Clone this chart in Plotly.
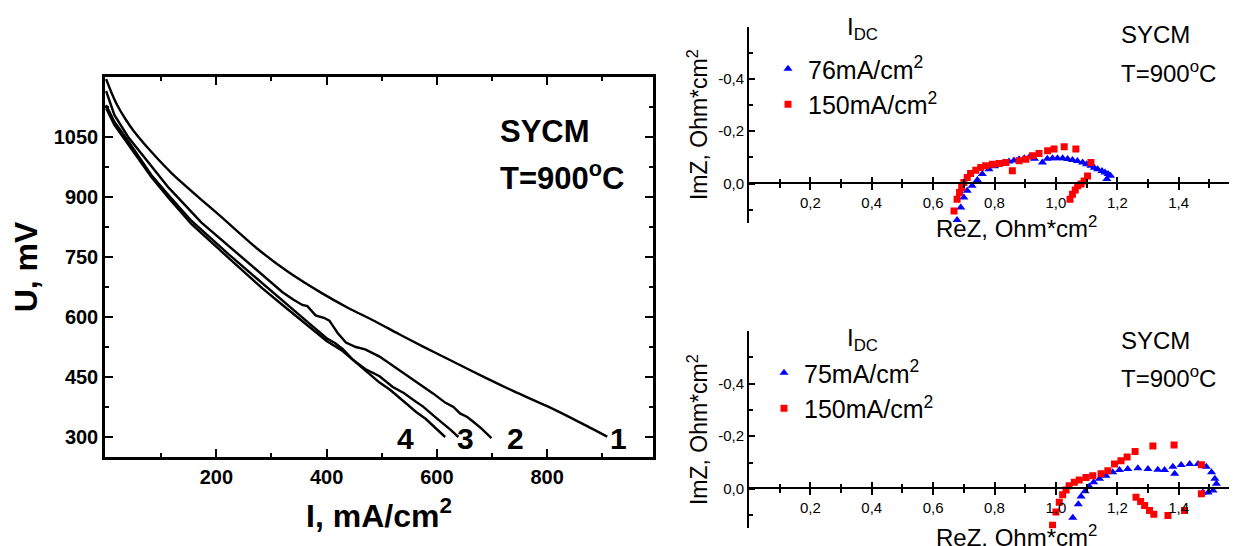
import plotly.graph_objects as go

W, H = 1237, 546
OFF = 8  # browser body margin: the figure is drawn 8 px in from the top-left corner
FW, FH = W - OFF, H - OFF
FONT = "Arial, Liberation Sans, sans-serif"

# ---------------- Left panel: U(I) curves ----------------
I1 = [0, 10, 20, 35, 50, 82, 120, 173, 210, 275, 330, 392, 440, 484, 530, 575, 630, 684, 740, 800, 860, 909]
U1 = [1195, 1160, 1130, 1095, 1065, 1013, 958, 893, 849, 770, 713, 659, 622, 592, 558, 526, 488, 451, 414, 377, 336, 301]

I2 = [0, 15, 40, 82, 113, 173, 246, 283, 320, 340, 356, 365, 380, 395, 405, 420, 435, 453, 470, 496, 515, 530, 557, 575, 593, 615, 630, 642, 655, 666, 680, 699]
U2 = [1165, 1105, 1050, 978, 924, 836, 750, 705, 662, 643, 630, 627, 604, 598, 591, 560, 536, 525, 519, 501, 483, 468, 442, 427, 409, 386, 375, 359, 350, 338, 322, 297]

I3 = [0, 15, 40, 82, 113, 155, 222, 283, 320, 344, 370, 400, 415, 429, 447, 470, 496, 520, 540, 560, 575, 595, 610, 625, 639]
U3 = [1130, 1088, 1040, 955, 905, 840, 757, 684, 640, 612, 582, 547, 535, 520, 494, 470, 452, 425, 410, 390, 376, 352, 336, 318, 300]

I4 = [0, 15, 40, 82, 113, 155, 222, 283, 320, 344, 370, 400, 429, 460, 480, 496, 515, 530, 550, 563, 580, 590, 603, 615]
U4 = [1122, 1080, 1032, 950, 898, 832, 748, 672, 630, 603, 572, 540, 515, 478, 455, 436, 418, 400, 378, 362, 345, 332, 316, 300]

curve_labels = ["1", "2", "3", "4"]
label_I = [930, 742, 652, 543]
label_U = [297, 297, 297, 297]

left_xticks = [200, 400, 600, 800]
left_xminor = [100, 300, 500, 700, 900]
left_yticks = [300, 450, 600, 750, 900, 1050]
left_yminor = [375, 525, 675, 825, 975, 1125]

# ---------------- Right panels: impedance spectra ----------------
# top: 76 mA/cm2 (blue) and 150 mA/cm2 (red)
ReZ_t76 = [0.678, 0.690, 0.700, 0.711, 0.727, 0.744, 0.760, 0.782, 0.800, 0.815, 0.830, 0.847, 0.863, 0.880,
           0.897, 0.913, 0.930, 0.956, 0.972, 0.989, 1.005, 1.022, 1.038, 1.054, 1.070, 1.087, 1.100, 1.114,
           1.125, 1.136, 1.150, 1.160, 1.170, 1.178, 1.166]
ImZ_t76 = [0.140, 0.092, 0.054, 0.028, 0.009, -0.013, -0.036, -0.055, -0.066, -0.074, -0.080, -0.084, -0.088,
           -0.093, -0.097, -0.100, -0.095, -0.080, -0.095, -0.097, -0.097, -0.097, -0.094, -0.090, -0.086,
           -0.080, -0.074, -0.068, -0.060, -0.055, -0.048, -0.042, -0.036, -0.030, -0.017]
ReZ_t150 = [0.668, 0.678, 0.686, 0.693, 0.700, 0.711, 0.722, 0.739, 0.755, 0.771, 0.793, 0.815, 0.837, 0.858,
            0.880, 0.902, 0.924, 0.945, 0.973, 0.994, 1.027, 1.065, 1.114, 1.103, 1.092, 1.082, 1.071, 1.063,
            1.054, 1.046]
ImZ_t150 = [0.105, 0.060, 0.034, 0.015, -0.004, -0.023, -0.038, -0.051, -0.061, -0.068, -0.074, -0.077, -0.080,
            -0.049, -0.087, -0.093, -0.106, -0.115, -0.125, -0.132, -0.141, -0.132, -0.080, -0.029, -0.010,
            0.002, 0.009, 0.025, 0.041, 0.060]

# bottom: 75 mA/cm2 (blue) and 150 mA/cm2 (red)
ReZ_b75 = [1.055, 1.073, 1.082, 1.095, 1.109, 1.123, 1.142, 1.163, 1.185, 1.207, 1.234, 1.267, 1.300, 1.332,
           1.354, 1.387, 1.381, 1.408, 1.436, 1.463, 1.490, 1.507, 1.518, 1.523, 1.512, 1.496, 1.479]
ImZ_b75 = [0.110, 0.059, 0.029, 0.009, -0.009, -0.025, -0.038, -0.050, -0.063, -0.072, -0.075, -0.078, -0.075,
           -0.073, -0.072, -0.057, -0.084, -0.091, -0.094, -0.094, -0.084, -0.063, -0.038, -0.019, 0.006,
           0.014, 0.014]
ReZ_b150 = [0.989, 1.000, 1.011, 1.022, 1.033, 1.043, 1.060, 1.076, 1.098, 1.120, 1.147, 1.169, 1.191, 1.212,
            1.232, 1.258, 1.316, 1.385, 1.474, 1.474, 1.419, 1.365, 1.319, 1.305, 1.289, 1.276, 1.261]
ImZ_b150 = [0.138, 0.088, 0.051, 0.022, 0.004, -0.012, -0.025, -0.034, -0.043, -0.050, -0.057, -0.069, -0.094,
            -0.107, -0.121, -0.142, -0.163, -0.167, -0.092, 0.019, 0.082, 0.101, 0.097, 0.082, 0.063, 0.048,
            0.032]

nyq_xticks = [0.2, 0.4, 0.6, 0.8, 1.0, 1.2, 1.4]
nyq_xlabels = ["0,2", "0,4", "0,6", "0,8", "1,0", "1,2", "1,4"]
nyq_xminor = [0.1, 0.3, 0.5, 0.7, 0.9, 1.1, 1.3, 1.5]
nyq_yticks = [-0.4, -0.2, 0.0]
nyq_ylabels = ["-0,4", "-0,2", "0,0"]
nyq_yminor = [-0.5, -0.3, -0.1, 0.1]


def px(x):
    return (x - OFF) / FW


def py(y):
    return 1 - (y - OFF) / FH


fig = go.Figure()

fig.add_trace(go.Scatter(x=I1, y=U1, mode="lines", line=dict(color="black", width=2.4, shape="spline",
                                                               smoothing=0.6),
                         showlegend=False, xaxis="x", yaxis="y"))
for I, U in [(I2, U2), (I3, U3), (I4, U4)]:
    fig.add_trace(go.Scatter(x=I, y=U, mode="lines", line=dict(color="black", width=2.4),
                             showlegend=False, xaxis="x", yaxis="y"))

BLUE = "#0000ff"
RED = "#ff0000"
fig.add_trace(go.Scatter(x=ReZ_t76, y=ImZ_t76, mode="markers", name="76mA/cm<sup>2</sup>",
                         marker=dict(symbol="triangle-up", color=BLUE, size=8),
                         xaxis="x2", yaxis="y2", legend="legend"))
fig.add_trace(go.Scatter(x=ReZ_t150, y=ImZ_t150, mode="markers", name="150mA/cm<sup>2</sup>",
                         marker=dict(symbol="square", color=RED, size=7),
                         xaxis="x2", yaxis="y2", legend="legend"))
fig.add_trace(go.Scatter(x=ReZ_b75, y=ImZ_b75, mode="markers", name="75mA/cm<sup>2</sup>",
                         marker=dict(symbol="triangle-up", color=BLUE, size=8),
                         xaxis="x3", yaxis="y3", legend="legend2"))
fig.add_trace(go.Scatter(x=ReZ_b150, y=ImZ_b150, mode="markers", name="150mA/cm<sup>2</sup>",
                         marker=dict(symbol="square", color=RED, size=7),
                         xaxis="x3", yaxis="y3", legend="legend2"))
# helper (empty) traces so the upper tick halves of the zero-crossing axes are drawn
fig.add_trace(go.Scatter(x=[None], y=[None], xaxis="x4", yaxis="y2", showlegend=False, hoverinfo="skip"))
fig.add_trace(go.Scatter(x=[None], y=[None], xaxis="x5", yaxis="y3", showlegend=False, hoverinfo="skip"))

bold_tick = dict(family=FONT, size=20, color="black", weight="bold")

left_x = dict(domain=[px(105), px(653)], range=[-2, 992], tickmode="array", tickvals=left_xticks,
              ticks="inside", ticklen=8, tickwidth=2, tickcolor="black",
              minor=dict(tickmode="array", tickvals=left_xminor, ticks="inside", ticklen=4, tickwidth=2,
                         tickcolor="black"),
              showline=True, linewidth=2.5, linecolor="black", mirror="allticks", showgrid=False,
              zeroline=False, tickfont=bold_tick, anchor="y",
              title=dict(text="<b>I, mA/cm<sup>2</sup></b>", font=dict(family=FONT, size=32, color="black"),
                         standoff=18))
left_y = dict(domain=[py(457), py(77)], range=[250, 1200], tickmode="array", tickvals=left_yticks,
              ticks="inside", ticklen=8, tickwidth=2, tickcolor="black",
              minor=dict(tickmode="array", tickvals=left_yminor, ticks="inside", ticklen=4, tickwidth=2,
                         tickcolor="black"),
              showline=True, linewidth=2.5, linecolor="black", mirror="allticks", showgrid=False,
              zeroline=False, tickfont=bold_tick, anchor="x",
              title=dict(text="<b>U, mV</b>", font=dict(family=FONT, size=32, color="black"), standoff=14))

nyq_tick_font = dict(family=FONT, size=15, color="black")


def nyq_x(domain, pos):
    return dict(domain=domain, range=[0, 1.59], anchor="free", position=pos, tickmode="array",
                tickvals=nyq_xticks, ticktext=nyq_xlabels, ticks="outside", ticklen=6, tickwidth=1.5,
                tickcolor="black",
                minor=dict(tickmode="array", tickvals=nyq_xminor, ticks="outside", ticklen=4, tickwidth=1.5,
                           tickcolor="black"),
                showline=True, linewidth=1.8, linecolor="black", showgrid=False, zeroline=False,
                tickfont=nyq_tick_font)


def nyq_x_upper(over, pos):
    return dict(overlaying=over, range=[0, 1.59], anchor="free", position=pos, side="top",
                tickmode="array", tickvals=nyq_xticks, ticks="outside", ticklen=6, tickwidth=1.5,
                tickcolor="black", showticklabels=False,
                minor=dict(tickmode="array", tickvals=nyq_xminor, ticks="outside", ticklen=4, tickwidth=1.5,
                           tickcolor="black"),
                showline=False, showgrid=False, zeroline=False)


def nyq_y(domain, anchor):
    return dict(domain=domain, range=[0.15, -0.6], anchor=anchor, tickmode="array", tickvals=nyq_yticks,
                ticktext=nyq_ylabels, ticks="inside", ticklen=6, tickwidth=1.5, tickcolor="black",
                minor=dict(tickmode="array", tickvals=nyq_yminor, ticks="inside", ticklen=4, tickwidth=1.5,
                           tickcolor="black"),
                showline=True, linewidth=1.8, linecolor="black", showgrid=False, zeroline=False,
                tickfont=nyq_tick_font,
                title=dict(text="ImZ, Ohm*cm<sup>2</sup>", font=dict(family=FONT, size=23, color="black"),
                           standoff=4))


top_axis_pos = py(182.7)
bot_axis_pos = py(488.3)

legend_font = dict(family=FONT, size=25, color="black")

fig.update_layout(
    width=FW, height=FH, margin=dict(l=0, r=0, t=0, b=0),
    paper_bgcolor="white", plot_bgcolor="rgba(0,0,0,0)",
    font=dict(family=FONT, color="black"),
    xaxis=left_x, yaxis=left_y,
    xaxis2=nyq_x([px(749), 1], top_axis_pos),
    yaxis2=nyq_y([py(222.7), py(26.7)], "x2"),
    xaxis3=nyq_x([px(749), 1], bot_axis_pos),
    yaxis3=nyq_y([py(528.3), py(331)], "x3"),
    xaxis4=nyq_x_upper("x2", top_axis_pos),
    xaxis5=nyq_x_upper("x3", bot_axis_pos),
    legend=dict(x=px(768), y=py(46), xanchor="left", yanchor="top", font=legend_font,
                bgcolor="rgba(0,0,0,0)", itemsizing="trace", tracegroupgap=0),
    legend2=dict(x=px(764), y=py(350), xanchor="left", yanchor="top", font=legend_font,
                 bgcolor="rgba(0,0,0,0)", itemsizing="trace", tracegroupgap=0),
    showlegend=True,
)

annotations = []
# left panel texts
annotations.append(dict(text="<b>SYCM</b>", x=px(498), y=py(132), xref="paper", yref="paper",
                        xanchor="left", yanchor="middle", showarrow=False,
                        font=dict(family=FONT, size=31, color="black")))
annotations.append(dict(text="<b>T=900<sup>o</sup>C</b>", x=px(498), y=py(176), xref="paper", yref="paper",
                        xanchor="left", yanchor="middle", showarrow=False,
                        font=dict(family=FONT, size=31, color="black")))
for lab, xi, yu in zip(curve_labels, label_I, label_U):
    annotations.append(dict(text="<b>%s</b>" % lab, x=xi, y=yu, xref="x", yref="y", showarrow=False,
                            xanchor="center", yanchor="middle", font=dict(family=FONT, size=30, color="black")))
# right panel texts
for y_i, y_s, y_t in [(28, 35, 72), (339, 340, 377)]:
    annotations.append(dict(text="I<sub>DC</sub>", x=px(845), y=py(y_i), xref="paper", yref="paper",
                            xanchor="left", yanchor="middle", showarrow=False,
                            font=dict(family=FONT, size=24, color="black")))
    annotations.append(dict(text="SYCM", x=px(1119), y=py(y_s), xref="paper", yref="paper", xanchor="left",
                            yanchor="middle", showarrow=False, font=dict(family=FONT, size=24, color="black")))
    annotations.append(dict(text="T=900<sup>o</sup>C", x=px(1119), y=py(y_t), xref="paper", yref="paper",
                            xanchor="left", yanchor="middle", showarrow=False,
                            font=dict(family=FONT, size=24, color="black")))
for y_r in [227, 536]:
    annotations.append(dict(text="ReZ, Ohm*cm<sup>2</sup>", x=px(1016), y=py(y_r), xref="paper", yref="paper",
                            xanchor="center", yanchor="middle", showarrow=False,
                            font=dict(family=FONT, size=24, color="black")))
fig.update_layout(annotations=annotations)

fig.write_html("out.html")
